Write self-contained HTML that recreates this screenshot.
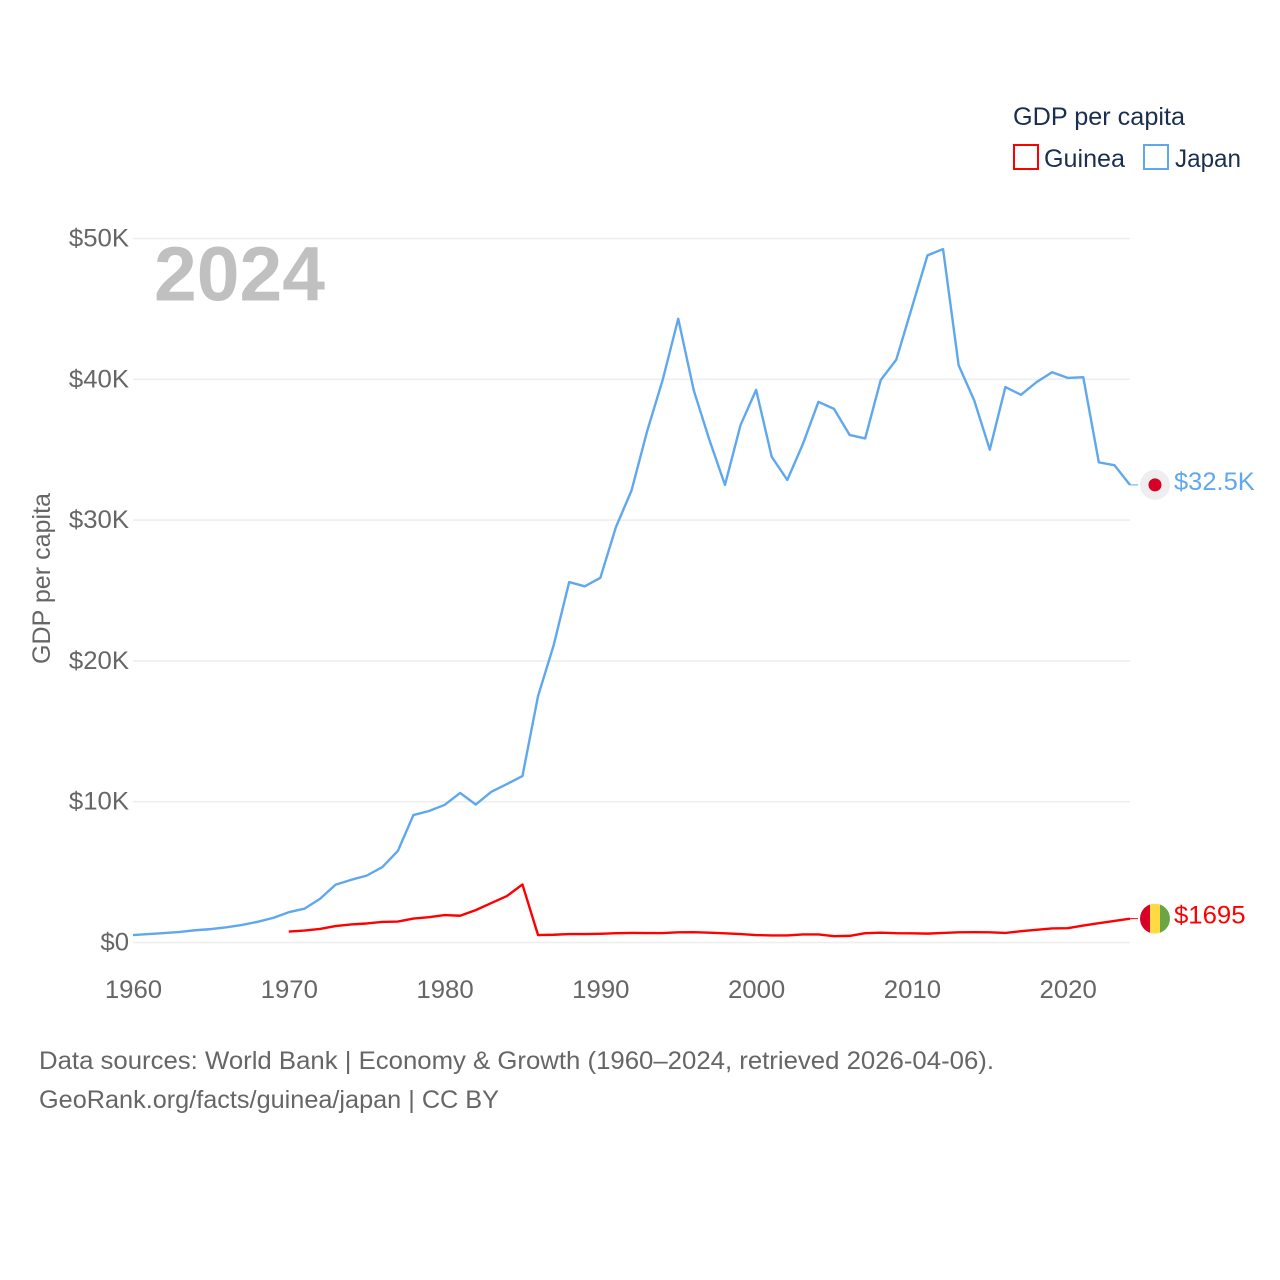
<!DOCTYPE html>
<html lang="en">
<head>
<meta charset="utf-8">
<title>GDP per capita: Guinea and Japan</title>
<style>
html,body{margin:0;padding:0;background:#fff;width:1280px;height:1280px;overflow:hidden}
svg{display:block}
text{font-family:"Liberation Sans",sans-serif}
</style>
</head>
<body>
<svg id="chart" xmlns="http://www.w3.org/2000/svg" width="1280" height="1280" viewBox="0 0 1280 1280">
  <rect width="1280" height="1280" fill="#ffffff"/>
  <g id="grid"></g>
  <text x="154" y="300.5" font-size="77" font-weight="700" fill="#c0c0c0" textLength="171" lengthAdjust="spacingAndGlyphs">2024</text>
  <g id="ytl"></g>
  <g id="xtl"></g>
  <text transform="translate(50,578.5) rotate(-90)" text-anchor="middle" font-size="25" fill="#666666" textLength="171" lengthAdjust="spacingAndGlyphs">GDP per capita</text>
  <g id="series"></g>
  <g id="flag-japan"></g>
  <g id="flag-guinea"></g>
  <g id="end-labels"></g>
  <g>
    <text x="1013" y="125" font-size="25" fill="#1a2f4f" textLength="172" lengthAdjust="spacingAndGlyphs">GDP per capita</text>
    <g>
      <rect x="1014" y="145" width="24" height="24" fill="none" stroke="#ff0000" stroke-width="2"/>
      <text x="1044" y="167" font-size="25" fill="#1a2f4f" textLength="81" lengthAdjust="spacingAndGlyphs">Guinea</text>
    </g>
    <g>
      <rect x="1144" y="145" width="24" height="24" fill="none" stroke="#5fa8ee" stroke-width="2"/>
      <text x="1175" y="167" font-size="25" fill="#1a2f4f" textLength="66" lengthAdjust="spacingAndGlyphs">Japan</text>
    </g>
  </g>
  <text x="39" y="1069" font-size="25" fill="#666666" textLength="955" lengthAdjust="spacingAndGlyphs">Data sources: World Bank | Economy &amp; Growth (1960–2024, retrieved 2026-04-06).</text>
  <text x="39" y="1108" font-size="25" fill="#666666" textLength="460" lengthAdjust="spacingAndGlyphs">GeoRank.org/facts/guinea/japan | CC BY</text>
</svg>
<script>
const years = [1960,1961,1962,1963,1964,1965,1966,1967,1968,1969,
  1970,1971,1972,1973,1974,1975,1976,1977,1978,1979,
  1980,1981,1982,1983,1984,1985,1986,1987,1988,1989,
  1990,1991,1992,1993,1994,1995,1996,1997,1998,1999,
  2000,2001,2002,2003,2004,2005,2006,2007,2008,2009,
  2010,2011,2012,2013,2014,2015,2016,2017,2018,2019,
  2020,2021,2022,2023,2024];
const japanValues = [0.53,0.6,0.67,0.75,0.87,0.95,1.08,1.25,1.47,1.75,
  2.15,2.4,3.1,4.1,4.45,4.75,5.35,6.5,9.05,9.34,
  9.77,10.62,9.8,10.7,11.25,11.82,17.5,21.1,25.6,25.3,
  25.9,29.5,32.1,36.3,39.95,44.3,39.2,35.7,32.5,36.75,
  39.25,34.5,32.85,35.4,38.4,37.9,36.05,35.8,39.95,41.4,
  45.1,48.8,49.25,41.0,38.5,35.0,39.45,38.9,39.8,40.5,
  40.1,40.15,34.1,33.9,32.5];
const guineaValues = [null,null,null,null,null,null,null,null,null,null,
  0.78,0.85,0.96,1.17,1.28,1.35,1.46,1.49,1.7,1.8,
  1.95,1.9,2.3,2.8,3.3,4.12,0.53,0.55,0.6,0.6,
  0.62,0.66,0.68,0.67,0.67,0.72,0.73,0.7,0.65,0.6,
  0.53,0.5,0.5,0.57,0.57,0.45,0.47,0.66,0.7,0.66,
  0.65,0.63,0.68,0.72,0.73,0.72,0.68,0.8,0.9,1.0,
  1.02,1.2,1.37,1.53,1.695];
const yTicks = [0,10,20,30,40,50];
const yTickLabels = ["$0","$10K","$20K","$30K","$40K","$50K"];
const xTicks = [1960,1970,1980,1990,2000,2010,2020];
const xTickLabels = ["1960","1970","1980","1990","2000","2010","2020"];
const japanEndLabel = "$32.5K";
const guineaEndLabel = "$1695";

const NS = "http://www.w3.org/2000/svg";
const JAPAN = "#5fa8ee", GUINEA = "#ff0000";
function xScale(year){ return 133 + (year - 1960) * 15.578; }
function yScale(value){ return 942.5 - value * 14.08; }
function make(tag, parent, attrs){
  const el = document.createElementNS(NS, tag);
  for (const k in attrs) el.setAttribute(k, attrs[k]);
  parent.appendChild(el);
  return el;
}
function linePath(values){
  let d = "", open = false;
  values.forEach(function(v, i){
    if (v === null) { open = false; return; }
    d += (open ? "L" : "M") + xScale(years[i]).toFixed(2) + " " + yScale(v).toFixed(2);
    open = true;
  });
  return d;
}
function stretch(el, ratio){
  el.setAttribute("textLength", (el.getComputedTextLength() * ratio).toFixed(1));
  el.setAttribute("lengthAdjust", "spacingAndGlyphs");
}

const grid = document.getElementById("grid");
const ytl = document.getElementById("ytl");
yTicks.forEach(function(t, i){
  const line = make("line", grid, {x1:133, x2:1130, y1:yScale(t), y2:yScale(t), stroke:"#eeeeee", "stroke-width":1.6});
  
  
  const lab = make("text", ytl, {x:129, y:yScale(t) + 8, "text-anchor":"end", "font-size":25, fill:"#666666"});
  
  
  lab.textContent = yTickLabels[i];
  stretch(lab, 1.03);
});

const xtl = document.getElementById("xtl");
xTicks.forEach(function(t, i){
  const lab = make("text", xtl, {x:xScale(t) + 0.5, y:998, "text-anchor":"middle", "font-size":25, fill:"#666666"});
  
  
  lab.textContent = xTickLabels[i];
  stretch(lab, 1.03);
});

const series = document.getElementById("series");
const lastIndex = years.length - 1;
const lastX = xScale(years[lastIndex]);
const japanY = yScale(japanValues[lastIndex]);
const guineaY = yScale(guineaValues[lastIndex]);

const japanConnector = make("line", series, {x1:lastX, x2:lastX + 8, y1:japanY, y2:japanY, stroke:JAPAN, "stroke-width":1});


const guineaConnector = make("line", series, {x1:lastX, x2:lastX + 8, y1:guineaY, y2:guineaY, stroke:GUINEA, "stroke-width":1});



const japanLine = make("path", series, {d:linePath(japanValues), fill:"none", stroke:JAPAN, "stroke-width":2.4, "stroke-linejoin":"round"});


const guineaLine = make("path", series, {d:linePath(guineaValues), fill:"none", stroke:GUINEA, "stroke-width":2.4, "stroke-linejoin":"round"});



const flagX = lastX + 25;
const fj = document.getElementById("flag-japan");
make("circle", fj, {cx:flagX, cy:japanY, r:15, fill:"#eeeeee"});
make("circle", fj, {cx:flagX, cy:japanY, r:6.5, fill:"#d80027"});

const fg = document.getElementById("flag-guinea");
const clip = make("clipPath", fg, {id:"guinea-clip"});
make("circle", clip, {cx:flagX, cy:guineaY, r:15});
const stripes = make("g", fg, {"clip-path":"url(#guinea-clip)"});
make("rect", stripes, {x:flagX - 15, y:guineaY - 15, width:10, height:30, fill:"#d80027"});
make("rect", stripes, {x:flagX - 5, y:guineaY - 15, width:10, height:30, fill:"#ffda44"});
make("rect", stripes, {x:flagX + 5, y:guineaY - 15, width:10, height:30, fill:"#6da544"});

const endLabels = document.getElementById("end-labels");
const japanText = make("text", endLabels, {x:lastX + 44, y:japanY + 5, "font-size":25, fill:JAPAN});


japanText.textContent = japanEndLabel;
stretch(japanText, 1.02);
const guineaText = make("text", endLabels, {x:lastX + 44, y:guineaY + 5, "font-size":25, fill:GUINEA});


guineaText.textContent = guineaEndLabel;
stretch(guineaText, 1.03);
</script>
</body>
</html>
